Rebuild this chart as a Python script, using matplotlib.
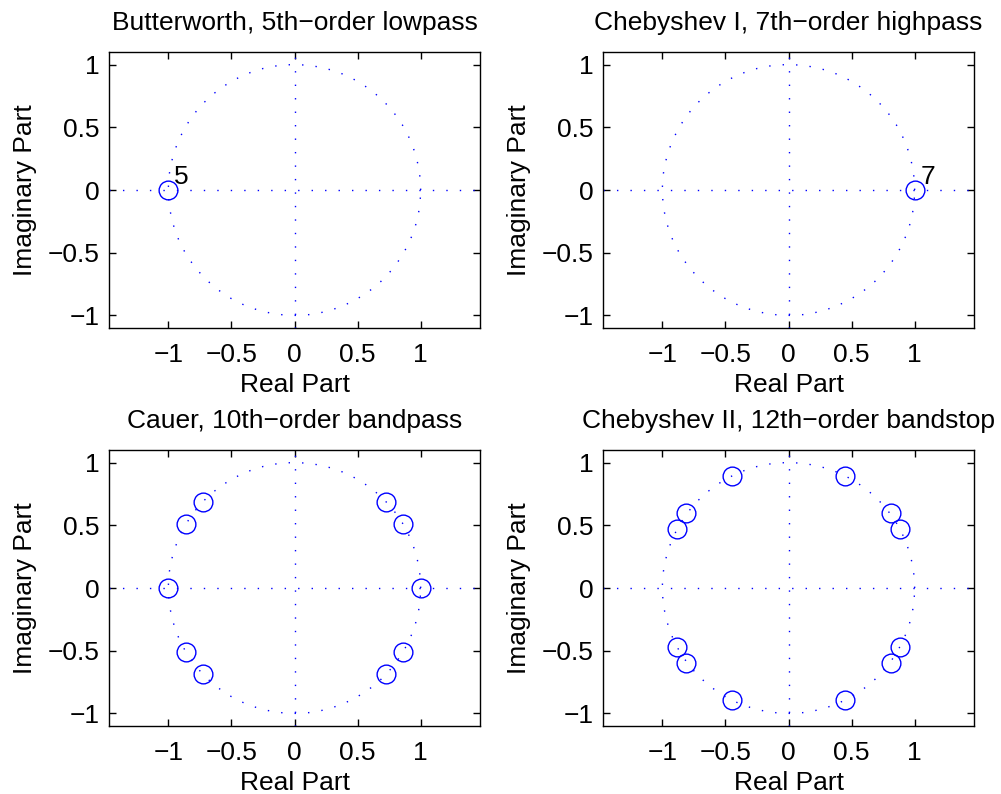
import numpy as np
import matplotlib
matplotlib.use('Agg')
import matplotlib.pyplot as plt

plt.rcParams['font.family'] = ['Liberation Sans', 'DejaVu Sans']

# Zeros (real, imag)
BUTTER_RE = [-1.0]
BUTTER_IM = [0.0]
BUTTER_MULT = [5]

CHEBY1_RE = [1.0]
CHEBY1_IM = [0.0]
CHEBY1_MULT = [7]

CAUER_RE = [-0.727, -0.86, -1.0, -0.86, -0.727, 0.727, 0.86, 1.0, 0.86, 0.727]
CAUER_IM = [0.689, 0.509, 0.0, -0.509, -0.689, 0.689, 0.509, 0.0, -0.509, -0.689]

CHEBY2_RE = [-0.446, -0.81, -0.885, -0.885, -0.81, -0.446,
             0.446, 0.81, 0.885, 0.885, 0.81, 0.446]
CHEBY2_IM = [0.893, 0.595, 0.473, -0.473, -0.595, -0.893,
             0.893, 0.595, 0.473, -0.473, -0.595, -0.893]

TITLES = ['Butterworth, 5th\u2212order lowpass',
          'Chebyshev I, 7th\u2212order highpass',
          'Cauer, 10th\u2212order bandpass',
          'Chebyshev II, 12th\u2212order bandstop']

TICKS = [-1, -0.5, 0, 0.5, 1]
TICK_LABELS = ['\u22121', '\u22120.5', '0', '0.5', '1']
XLIM = (-1.47, 1.47)
YLIM = (-1.1, 1.1)

FS = 19
W, H = 1001, 794
fig = plt.figure(figsize=(W / 100, H / 100), dpi=100)

# axes boxes in pixels: left, top, right, bottom
boxes = [(109, 52, 480, 328), (603, 52, 974, 328),
         (109, 450, 480, 726), (603, 450, 974, 726)]

panels = [(BUTTER_RE, BUTTER_IM, BUTTER_MULT),
          (CHEBY1_RE, CHEBY1_IM, CHEBY1_MULT),
          (CAUER_RE, CAUER_IM, None),
          (CHEBY2_RE, CHEBY2_IM, None)]

dot = (0, (1, 8.7))
theta = np.linspace(0, 2 * np.pi, 70)

for (l, t, r, b), (zr, zi, mult), title in zip(boxes, panels, TITLES):
    ax = fig.add_axes([l / W, (H - b) / H, (r - l) / W, (b - t) / H])
    ax.plot(np.cos(theta), np.sin(theta), color='blue', lw=1.0, ls=dot)
    ax.plot(XLIM, [0, 0], color='blue', lw=1.0, ls=dot)
    ax.plot([0, 0], YLIM, color='blue', lw=1.0, ls=dot)
    ax.plot(zr, zi, 'o', color='blue', mfc='none', ms=13.5, mew=1.0)
    if mult:
        for x, y, m in zip(zr, zi, mult):
            ax.text(x + 0.045, y + 0.05, str(m), fontsize=FS,
                    ha='left', va='baseline')
    ax.set_xlim(XLIM)
    ax.set_ylim(YLIM)
    ax.set_xticks(TICKS)
    ax.set_yticks(TICKS)
    ax.set_xticklabels(TICK_LABELS)
    ax.set_yticklabels(TICK_LABELS)
    ax.tick_params(direction='in', length=5, width=1, labelsize=FS,
                   top=True, right=True)
    ax.tick_params(axis='x', pad=11)
    ax.tick_params(axis='y', pad=6.5)
    for s in ax.spines.values():
        s.set_linewidth(1.0)
    ax.set_xlabel('Real Part', fontsize=FS, labelpad=4)
    ax.set_ylabel('Imaginary Part', fontsize=FS, labelpad=8)
    ax.set_title(title, fontsize=FS, pad=16)

fig.savefig('out.png', dpi=100)
